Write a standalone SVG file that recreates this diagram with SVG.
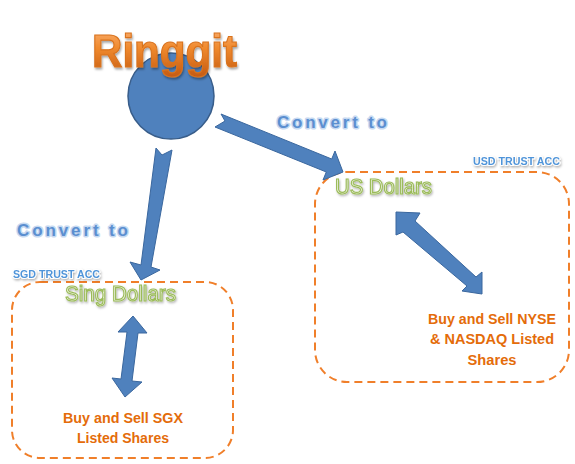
<svg xmlns="http://www.w3.org/2000/svg" width="575" height="464" viewBox="0 0 575 464">
<defs>
<linearGradient id="og" x1="0" y1="0" x2="0" y2="1">
<stop offset="0" stop-color="#FBB47A"/>
<stop offset="0.45" stop-color="#F08A2E"/>
<stop offset="1" stop-color="#C55A11"/>
</linearGradient>
<filter id="sh" x="-10%" y="-10%" width="130%" height="140%">
<feDropShadow dx="1" dy="2" stdDeviation="1" flood-color="#000" flood-opacity="0.35"/>
</filter>
<filter id="sh2" x="-10%" y="-10%" width="130%" height="140%">
<feDropShadow dx="1" dy="1.5" stdDeviation="0.8" flood-color="#000" flood-opacity="0.3"/>
</filter>
</defs>
<style>
.box{fill:none;stroke:#F07F2A;stroke-width:2;stroke-dasharray:8 5}
.arrow{fill:#4F81BD;stroke:#3A679E;stroke-width:1;stroke-linejoin:miter}
.t{font-family:"Liberation Sans",Arial,sans-serif;font-weight:bold}
.conv{font-size:17px;fill:#5B8FD0;stroke:#C6D9F1;stroke-width:3;paint-order:stroke;stroke-linejoin:round}
.acc{font-size:11px;fill:#4F94D9;stroke:#FFFFFF;stroke-width:2;paint-order:stroke;filter:url(#sh2)}
.cur{font-weight:normal;font-size:22px;fill:#F3F7EA;stroke:#9BBB59;stroke-width:1.2;filter:url(#sh2)}
.buy{font-size:14px;fill:#E46C0A;text-anchor:middle}
</style>

<g id="node-ringgit">
<circle cx="171" cy="96" r="43" fill="#4F81BD" stroke="#385D8A" stroke-width="1.5"/>
<text class="t" x="92" y="67" font-size="47" textLength="145" lengthAdjust="spacingAndGlyphs" fill="url(#og)" stroke="#D9731F" stroke-width="1.2" filter="url(#sh)">Ringgit</text>
</g>

<g id="node-usd">
<rect class="box" x="315" y="172" width="254" height="210" rx="32" ry="32"/>
<text class="t acc" x="473" y="165" textLength="87" lengthAdjust="spacingAndGlyphs">USD TRUST ACC</text>
<text class="t cur" x="335" y="194" textLength="97" lengthAdjust="spacingAndGlyphs">US Dollars</text>
<text class="t buy" x="492" y="324" textLength="128" lengthAdjust="spacingAndGlyphs">Buy and Sell NYSE</text>
<text class="t buy" x="492" y="344" textLength="124" lengthAdjust="spacingAndGlyphs">&amp; NASDAQ Listed</text>
<text class="t buy" x="492" y="365" textLength="49" lengthAdjust="spacingAndGlyphs">Shares</text>
</g>

<g id="node-sgd">
<rect class="box" x="12" y="282" width="221" height="176" rx="28" ry="28"/>
<text class="t acc" x="13" y="278" textLength="87" lengthAdjust="spacingAndGlyphs">SGD TRUST ACC</text>
<text class="t cur" x="65" y="301" textLength="111" lengthAdjust="spacingAndGlyphs">Sing Dollars</text>
<text class="t buy" x="123" y="423" textLength="120" lengthAdjust="spacingAndGlyphs">Buy and Sell SGX</text>
<text class="t buy" x="123" y="443" textLength="92" lengthAdjust="spacingAndGlyphs">Listed Shares</text>
</g>

<g id="connectors">
<polygon class="arrow" points="221,114 331.7,159 335,151 343,172 323,180 326.3,172 215,127 225,121"/>
<polygon class="arrow" points="156,148 162,155 172,150 151,267 160,270 141,280 130,262 141,265"/>
<polygon class="arrow" points="396,212 420,213 415,221 476,277 482,272 482,294 462,291 467,286 403,232 396,235"/>
<polygon class="arrow" points="133,316 147,333 138,333 132,381 142,382 125,397 112,378 121,379 127,332 118,332"/>
<text class="t conv" x="277" y="128" textLength="110" lengthAdjust="spacing">Convert to</text>
<text class="t conv" x="17" y="236" textLength="111" lengthAdjust="spacing">Convert to</text>
</g>
</svg>
